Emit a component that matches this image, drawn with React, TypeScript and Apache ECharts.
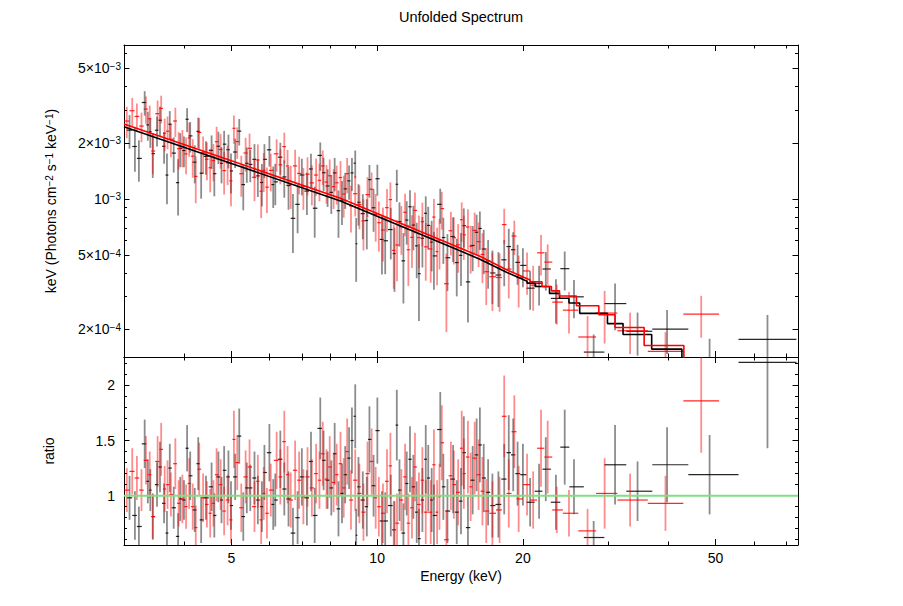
import React, { useEffect, useRef } from 'react';
import * as echarts from 'echarts';

// ---------------- Data ----------------
const energyRange = [3, 74];
const fluxRange = [1.424e-4, 6.68e-3];
const ratioRange = [0.552, 2.258];

const xMajorTicks = [5, 10, 20, 50];
const xMinorTicks = [4, 6, 7, 8, 9, 30, 40, 60, 70];
const fluxMajorTicks = [2e-4, 5e-4, 1e-3, 2e-3, 5e-3];
const fluxMinorTicks = [3e-4, 4e-4, 6e-4, 7e-4, 8e-4, 9e-4, 3e-3, 4e-3, 6e-3];
const ratioMajorTicks = [1, 1.5, 2];
const ratioMinorTicks = [0.6, 0.7, 0.8, 0.9, 1.1, 1.2, 1.3, 1.4, 1.6, 1.7, 1.8, 1.9, 2.1, 2.2];
const unityRatio = 1;

// black spectrum: bin centre energy (keV), data/model ratio, 1-sigma ratio error
const blackE = [
  3.08, 3.16, 3.22, 3.31, 3.36, 3.40, 3.44, 3.51, 3.56, 3.63, 3.68, 3.73, 3.80, 3.88, 3.92, 3.99, 4.05, 4.11, 4.20, 4.27,
  4.33, 4.43, 4.55, 4.61, 4.70, 4.77, 4.83, 4.93, 4.99, 5.09, 5.19, 5.29, 5.38, 5.47, 5.58, 5.67, 5.78, 5.85, 5.99, 6.10,
  6.16, 6.31, 6.43, 6.56, 6.70, 6.85, 6.99, 7.16, 7.30, 7.43, 7.63, 7.75, 7.90, 8.04, 8.17, 8.32, 8.46, 8.59, 8.75, 8.87,
  9.01, 9.05, 9.15, 9.34, 9.52, 9.64, 9.83, 10.01, 10.23, 10.39, 10.67, 10.86, 10.98, 11.12, 11.33, 11.51, 11.69, 11.88, 12.07,
  12.2, 12.4, 12.6, 12.75, 12.96, 13.1, 13.5, 13.7, 13.97, 14.35, 14.6, 14.9, 15.1, 15.4, 15.75, 16.05, 16.3, 16.6, 16.95, 17.3,
  17.8, 18.3, 18.7, 19.1, 19.5, 20.0, 20.7, 21.6, 22.3, 23.4, 24.4, 25.5, 28.0, 31.0, 34.5, 39.7, 48.6, 64.0,
];
const blackRatio = [
  0.98, 0.82, 0.72, 1.47, 1.13, 1.05, 0.81, 1.10, 1.26, 0.93, 0.66, 1.25, 0.89, 0.63, 0.97, 0.96, 1.43, 1.18, 0.87, 1.29,
  0.78, 0.98, 1.08, 0.82, 1.17, 0.96, 1.23, 1.17, 0.91, 1.17, 1.54, 0.81, 1.07, 1.07, 1.16, 0.96, 0.90, 1.21, 1.39, 0.92,
  0.96, 1.33, 1.06, 0.97, 0.66, 0.80, 1.17, 0.98, 1.31, 0.82, 1.61, 1.32, 1.14, 1.07, 1.38, 0.88, 1.02, 1.19, 1.34, 1.50,
  1.72, 0.64, 1.08, 0.96, 0.90, 1.51, 1.09, 1.59, 0.77, 0.77, 0.91, 0.69, 1.64, 1.05, 0.66, 1.11, 1.33, 1.08, 0.85,
  0.61, 0.96, 1.33, 1.16, 0.96, 0.82, 1.60, 1.08, 0.86, 1.15, 0.85, 0.95, 1.39, 0.71, 1.14, 1.37, 1.46, 1.16, 1.03, 0.91,
  0.92, 1.15, 1.39, 1.37, 1.20, 1.19, 0.94, 1.04, 1.24, 0.94, 1.44, 1.08, 0.62, 1.28, 1.04, 1.28, 1.19, 2.21,
];
const blackErr = [
  0.20, 0.22, 0.18, 0.22, 0.20, 0.19, 0.21, 0.20, 0.23, 0.18, 0.20, 0.22, 0.19, 0.21, 0.20, 0.18, 0.21, 0.22, 0.20, 0.24,
  0.21, 0.20, 0.22, 0.20, 0.23, 0.21, 0.22, 0.24, 0.22, 0.21, 0.25, 0.22, 0.23, 0.21, 0.24, 0.22, 0.23, 0.25, 0.26, 0.23,
  0.24, 0.26, 0.24, 0.25, 0.23, 0.24, 0.26, 0.25, 0.27, 0.25, 0.28, 0.27, 0.26, 0.25, 0.28, 0.25, 0.27, 0.26, 0.28, 0.30,
  0.29, 0.24, 0.27, 0.26, 0.27, 0.30, 0.28, 0.30, 0.27, 0.26, 0.28, 0.26, 0.32, 0.28, 0.27, 0.29, 0.30, 0.29, 0.28,
  0.27, 0.29, 0.31, 0.30, 0.29, 0.28, 0.34, 0.30, 0.29, 0.31, 0.29, 0.30, 0.33, 0.28, 0.31, 0.33, 0.34, 0.31, 0.30, 0.29,
  0.30, 0.32, 0.34, 0.33, 0.29, 0.28, 0.22, 0.25, 0.29, 0.25, 0.34, 0.25, 0.15, 0.36, 0.27, 0.34, 0.36, 0.78,
];

// red spectrum
const redE = [
  3.04, 3.12, 3.19, 3.26, 3.33, 3.39, 3.44, 3.52, 3.58, 3.64, 3.69, 3.75, 3.83, 3.89, 3.96, 4.03, 4.09, 4.16, 4.22, 4.29,
  4.37, 4.45, 4.52, 4.59, 4.66, 4.75, 4.83, 4.91, 4.99, 5.06, 5.14, 5.24, 5.35, 5.45, 5.58, 5.67, 5.76, 5.83, 5.92, 6.03,
  6.2, 6.31, 6.43, 6.53, 6.63, 6.77, 6.90, 7.04, 7.18, 7.33, 7.48, 7.60, 7.72, 7.86, 7.98, 8.13, 8.25, 8.40, 8.53, 8.67,
  8.83, 9.01, 9.19, 9.37, 9.55, 9.74, 9.93, 10.08, 10.28, 10.48, 10.65, 10.82, 10.99, 11.22, 11.42, 11.6, 11.8, 11.97,
  12.2, 12.4, 12.6, 12.9, 13.1, 13.3, 13.45, 13.6, 13.9, 14.2, 14.4, 14.7, 14.95, 15.1, 15.4, 15.6, 15.9, 16.2, 16.5, 16.8,
  17.3, 17.9, 18.3, 18.7, 19.2, 19.6, 20.4, 21.0, 21.8, 22.5, 23.5, 24.9, 27.2, 29.5, 33.3, 39.4, 46.7,
];
const redRatio = [
  1.05, 1.22, 1.16, 1.05, 1.32, 1.19, 0.81, 1.31, 1.42, 1.06, 1.10, 1.01, 1.29, 0.93, 0.97, 0.90, 1.11, 0.90, 0.71, 1.24,
  0.98, 0.92, 0.84, 0.93, 1.19, 1.10, 0.86, 0.96, 0.78, 1.51, 1.30, 0.89, 1.17, 1.26, 0.90, 1.13, 0.78, 1.02, 0.84, 1.05,
  1.32, 1.17, 1.49, 1.19, 0.96, 1.23, 1.14, 0.99, 1.17, 1.07, 1.20, 1.14, 1.38, 1.15, 1.26, 1.12, 1.19, 1.29, 1.07, 1.40,
  0.96, 1.14, 1.02, 0.85, 1.20, 1.31, 0.98, 0.90, 0.84, 1.13, 1.27, 0.69, 0.75, 0.96, 1.17, 0.75, 0.89, 1.26,
  0.92, 1.14, 0.85, 0.85, 1.28, 0.85, 0.99, 1.48, 0.60, 1.18, 1.10, 1.03, 1.43, 1.20, 1.35, 1.08, 1.34, 1.19, 1.04, 0.86,
  0.84, 0.87, 1.72, 1.02, 1.58, 0.97, 1.10, 0.96, 1.43, 1.35, 0.87, 0.84, 0.68, 1.02, 0.96, 0.93, 1.86,
];
const redErr = [
  0.20, 0.21, 0.20, 0.19, 0.22, 0.21, 0.20, 0.23, 0.24, 0.21, 0.22, 0.20, 0.23, 0.21, 0.22, 0.20, 0.23, 0.21, 0.20, 0.24,
  0.22, 0.21, 0.22, 0.21, 0.24, 0.23, 0.22, 0.23, 0.21, 0.26, 0.25, 0.22, 0.24, 0.25, 0.23, 0.24, 0.22, 0.24, 0.23, 0.24,
  0.26, 0.25, 0.28, 0.26, 0.25, 0.27, 0.26, 0.25, 0.27, 0.26, 0.27, 0.26, 0.29, 0.27, 0.28, 0.27, 0.28, 0.29, 0.27, 0.30,
  0.27, 0.28, 0.27, 0.26, 0.29, 0.30, 0.28, 0.27, 0.27, 0.29, 0.30, 0.26, 0.27, 0.28, 0.30, 0.27, 0.28, 0.31,
  0.29, 0.30, 0.29, 0.29, 0.32, 0.29, 0.30, 0.34, 0.27, 0.31, 0.31, 0.30, 0.34, 0.32, 0.33, 0.31, 0.33, 0.32, 0.31, 0.29,
  0.29, 0.30, 0.37, 0.31, 0.33, 0.30, 0.28, 0.26, 0.35, 0.33, 0.21, 0.21, 0.20, 0.32, 0.24, 0.25, 0.47,
];

// folded models: smooth part (knots) + broad high-energy bins (steps)
const blackModelKnotE = [3.0, 5.0, 8.4, 13.5, 16.3, 18.5, 20.4];
const blackModelKnotV = [2.44e-3, 1.55e-3, 9.75e-4, 5.85e-4, 4.76e-4, 4.05e-4, 3.62e-4];
const blackStepEdges = [20.4, 21.2, 22.7, 23.8, 24.9, 26.2, 29.9, 32.2, 36.9, 42.6, 54.8, 74];
const blackStepVals = [3.54e-4, 3.40e-4, 3.12e-4, 2.94e-4, 2.77e-4, 2.44e-4, 2.15e-4, 1.88e-4, 1.57e-4, 1.15e-4, 8.0e-5];
const redModelKnotE = [3.0, 5.0, 8.4, 13.5, 16.3, 18.5, 20.7];
const redModelKnotV = [2.52e-3, 1.6e-3, 1.01e-3, 6.05e-4, 4.93e-4, 4.18e-4, 3.68e-4];
const redStepEdges = [20.7, 21.9, 22.9, 23.8, 25.8, 28.7, 31.0, 35.6, 43.0, 50.5, 74];
const redStepVals = [3.6e-4, 3.4e-4, 3.22e-4, 3.02e-4, 2.68e-4, 2.4e-4, 2.05e-4, 1.64e-4, 1.3e-4, 9.0e-5];

// ---------------- Helpers ----------------
const L = Math.log10;
const FONT = '"Liberation Sans", Arial, Helvetica, sans-serif';

function modelPoints(knE: number[], knV: number[], edges: number[], vals: number[]) {
  const pts: number[][] = knE.map((e, i) => [e, knV[i]]);
  for (let i = 0; i < vals.length; i++) {
    pts.push([edges[i], vals[i]]);
    pts.push([edges[i + 1], vals[i]]);
  }
  return pts;
}

function modelAt(pts: number[][], E: number) {
  const x = L(E);
  for (let i = 0; i < pts.length - 1; i++) {
    const x0 = L(pts[i][0]);
    const x1 = L(pts[i + 1][0]);
    if (x1 > x0 && x >= x0 && x <= x1) {
      const t = (x - x0) / (x1 - x0);
      return Math.pow(10, L(pts[i][1]) + t * (L(pts[i + 1][1]) - L(pts[i][1])));
    }
  }
  return pts[pts.length - 1][1];
}

function buildItems(E: number[], R: number[], S: number[], model: number[][]) {
  const n = E.length;
  const lo: number[] = [];
  const hi: number[] = [];
  for (let i = 0; i < n; i++) {
    hi.push(i < n - 1 ? Math.sqrt(E[i] * E[i + 1]) : 0);
    lo.push(i > 0 ? Math.sqrt(E[i - 1] * E[i]) : 0);
  }
  lo[0] = (E[0] * E[0]) / hi[0];
  hi[n - 1] = (E[n - 1] * E[n - 1]) / lo[n - 1];
  const top: number[][] = [];
  const bottom: number[][] = [];
  for (let i = 0; i < n; i++) {
    const m = modelAt(model, E[i]);
    top.push([
      L(E[i]), L(lo[i]), L(hi[i]),
      L(R[i] * m), L(Math.max((R[i] - S[i]) * m, 1e-7)), L((R[i] + S[i]) * m),
    ]);
    bottom.push([L(E[i]), L(lo[i]), L(hi[i]), R[i], R[i] - S[i], R[i] + S[i]]);
  }
  return { top, bottom };
}

function errSeries(xIdx: number, yIdx: number, data: number[][], rgb: string, z: number) {
  return {
    type: 'custom',
    xAxisIndex: xIdx,
    yAxisIndex: yIdx,
    clip: true,
    z,
    silent: true,
    data,
    encode: { x: [0, 1, 2], y: [3, 4, 5] },
    renderItem: (_p: any, api: any) => {
      const xc = api.value(0), xl = api.value(1), xh = api.value(2);
      const yc = api.value(3), yl = api.value(4), yh = api.value(5);
      const a = api.coord([xl, yc]);
      const b = api.coord([xh, yc]);
      const c = api.coord([xc, yh]);
      const d = api.coord([xc, yl]);
      return {
        type: 'group',
        children: [
          {
            type: 'line',
            shape: { x1: c[0], y1: c[1], x2: d[0], y2: d[1] },
            style: { stroke: `rgba(${rgb},0.45)`, lineWidth: 1.8 },
          },
          {
            type: 'line',
            shape: { x1: a[0], y1: a[1], x2: b[0], y2: b[1] },
            style: { stroke: `rgba(${rgb},0.85)`, lineWidth: 1.2 },
          },
        ],
      };
    },
  };
}

const tickStyle = { color: '#000', width: 1 };
const labelBase = { fontSize: 14, color: '#000', fontFamily: FONT };
const supRich = { sup: { fontSize: 10, verticalAlign: 'top', fontFamily: FONT, color: '#000' } };

function xAxesFor(grid: number, withLabels: boolean) {
  const base = {
    type: 'value', gridIndex: grid, min: L(energyRange[0]), max: L(energyRange[1]),
    splitLine: { show: false }, silent: true,
  };
  const major = xMajorTicks.map(L);
  const minor = xMinorTicks.map(L);
  return [
    {
      ...base, position: 'bottom',
      axisLine: { show: true, onZero: false, lineStyle: tickStyle },
      axisTick: { show: true, inside: true, length: 6, customValues: major, lineStyle: tickStyle },
      axisLabel: {
        show: withLabels, customValues: major, margin: 6, ...labelBase,
        formatter: (v: number) => String(Math.round(Math.pow(10, v))),
      },
      name: withLabels ? 'Energy (keV)' : '',
      nameLocation: 'middle', nameGap: 24,
      nameTextStyle: { ...labelBase },
    },
    {
      ...base, position: 'bottom',
      axisLine: { show: false, onZero: false },
      axisTick: { show: true, inside: true, length: 3.5, customValues: minor, lineStyle: tickStyle },
      axisLabel: { show: false },
    },
    {
      ...base, position: 'top',
      axisLine: { show: true, onZero: false, lineStyle: tickStyle },
      axisTick: { show: true, inside: true, length: 6, customValues: major, lineStyle: tickStyle },
      axisLabel: { show: false },
    },
    {
      ...base, position: 'top',
      axisLine: { show: false, onZero: false },
      axisTick: { show: true, inside: true, length: 3.5, customValues: minor, lineStyle: tickStyle },
      axisLabel: { show: false },
    },
  ];
}

function yAxesFor(grid: number, min: number, max: number, major: number[], minor: number[],
  formatter: (v: number) => string, margin: number, name: string, nameGap: number) {
  const base = { type: 'value', gridIndex: grid, min, max, splitLine: { show: false }, silent: true };
  return [
    {
      ...base, position: 'left',
      axisLine: { show: true, onZero: false, lineStyle: tickStyle },
      axisTick: { show: true, inside: true, length: 5.5, customValues: major, lineStyle: tickStyle },
      axisLabel: { show: true, customValues: major, margin, ...labelBase, formatter, rich: supRich },
      name, nameLocation: 'middle', nameGap, nameRotate: 90,
      nameTextStyle: { ...labelBase, rich: supRich },
    },
    {
      ...base, position: 'left',
      axisLine: { show: false, onZero: false },
      axisTick: { show: true, inside: true, length: 3, customValues: minor, lineStyle: tickStyle },
      axisLabel: { show: false },
    },
    {
      ...base, position: 'right',
      axisLine: { show: true, onZero: false, lineStyle: tickStyle },
      axisTick: { show: true, inside: true, length: 5.5, customValues: major, lineStyle: tickStyle },
      axisLabel: { show: false },
    },
    {
      ...base, position: 'right',
      axisLine: { show: false, onZero: false },
      axisTick: { show: true, inside: true, length: 3, customValues: minor, lineStyle: tickStyle },
      axisLabel: { show: false },
    },
  ];
}

function fluxLabel(v: number) {
  const e = Math.floor(v + 1e-6);
  const mant = Math.round(Math.pow(10, v - e));
  const exp = '−' + Math.abs(e);
  return mant === 1 ? `10{sup|${exp}}` : `${mant}×10{sup|${exp}}`;
}

function ratioLabel(v: number) {
  return String(Math.round(v * 10) / 10);
}

function buildOption() {
  const blackModel = modelPoints(blackModelKnotE, blackModelKnotV, blackStepEdges, blackStepVals);
  const redModel = modelPoints(redModelKnotE, redModelKnotV, redStepEdges, redStepVals);
  const black = buildItems(blackE, blackRatio, blackErr, blackModel);
  const red = buildItems(redE, redRatio, redErr, redModel);

  const lineOf = (pts: number[][]) => pts.map((p) => [L(p[0]), L(p[1])]);

  return {
    animation: false,
    backgroundColor: '#fff',
    grid: [
      { left: 124, right: 105, top: 45, height: 312, outerBoundsMode: 'none' },
      { left: 124, right: 105, top: 357, height: 188, outerBoundsMode: 'none' },
    ],
    graphic: [
      {
        type: 'text', x: 461, y: 17,
        style: { text: 'Unfolded Spectrum', fontSize: 14.5, fontFamily: FONT, fill: '#000', align: 'center', verticalAlign: 'middle' },
      },
    ],
    xAxis: [...xAxesFor(0, false), ...xAxesFor(1, true)],
    yAxis: [
      ...yAxesFor(0, L(fluxRange[0]), L(fluxRange[1]), fluxMajorTicks.map(L), fluxMinorTicks.map(L), fluxLabel, 3,
        'keV (Photons cm{sup|−2} s{sup|−1} keV{sup|−1})', 66),
      ...yAxesFor(1, ratioRange[0], ratioRange[1], ratioMajorTicks, ratioMinorTicks, ratioLabel, 9, 'ratio', 68),
    ],
    series: [
      errSeries(0, 0, black.top, '0,0,0', 2),
      errSeries(0, 0, red.top, '255,0,0', 3),
      {
        type: 'line', xAxisIndex: 0, yAxisIndex: 0, data: lineOf(blackModel), symbol: 'none', z: 4,
        lineStyle: { color: '#000', width: 1.6 }, silent: true, clip: true,
      },
      {
        type: 'line', xAxisIndex: 0, yAxisIndex: 0, data: lineOf(redModel), symbol: 'none', z: 5,
        lineStyle: { color: '#ff0000', width: 1.6 }, silent: true, clip: true,
      },
      errSeries(4, 4, black.bottom, '0,0,0', 2),
      errSeries(4, 4, red.bottom, '255,0,0', 3),
      {
        type: 'line', xAxisIndex: 4, yAxisIndex: 4, symbol: 'none', z: 6, silent: true,
        data: [[L(energyRange[0]), unityRatio], [L(energyRange[1]), unityRatio]],
        lineStyle: { color: '#7fe07f', width: 2 },
      },
    ],
  };
}

export default function App() {
  const ref = useRef<HTMLDivElement>(null);
  useEffect(() => {
    if (!ref.current) return;
    const chart = echarts.init(ref.current, null, { renderer: 'svg' });
    chart.setOption(buildOption() as any);
    return () => chart.dispose();
  }, []);
  return (
    <div
      ref={ref}
      style={{ position: 'absolute', left: 0, top: 0, width: 903, height: 606, background: '#fff' }}
    />
  );
}
